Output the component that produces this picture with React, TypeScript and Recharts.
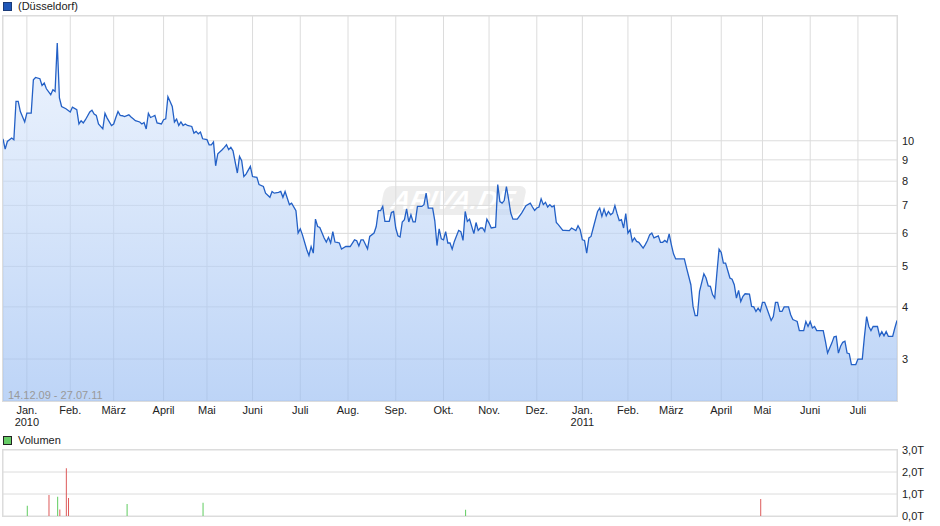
import { ComposedChart, Area, BarChart, Bar, Cell, XAxis, YAxis, CartesianGrid } from 'recharts';

// trading day number since 14.12.09 and closing price (EUR)
const tradingDays = [
  0, 1, 2, 4, 5, 6, 7, 8, 10, 11, 13, 14, 15, 17, 18, 19, 20, 22, 23, 24,
  25, 26, 27, 29, 31, 32, 34, 35, 36, 37, 38, 40, 41, 42, 43, 44, 46, 47, 48, 50,
  51, 52, 53, 54, 55, 56, 58, 59, 60, 61, 63, 64, 65, 66, 67, 68, 69, 70, 71, 73,
  74, 75, 76, 77, 78, 79, 80, 81, 82, 83, 84, 85, 87, 88, 89, 90, 91, 92, 94, 95,
  96, 97, 98, 99, 101, 102, 103, 104, 105, 106, 108, 109, 110, 111, 112, 114, 115, 117, 118, 120,
  121, 123, 124, 125, 127, 128, 129, 130, 132, 133, 135, 136, 137, 138, 140, 141, 142, 143, 144, 145,
  146, 148, 149, 150, 151, 152, 153, 154, 155, 156, 158, 160, 162, 163, 164, 165, 166, 168, 169, 171,
  172, 173, 174, 175, 176, 178, 179, 180, 181, 182, 183, 184, 185, 186, 187, 188, 189, 190, 191, 193,
  194, 195, 196, 198, 199, 200, 201, 202, 203, 204, 205, 206, 207, 208, 210, 211, 212, 213, 214, 215,
  217, 218, 219, 220, 221, 222, 223, 224, 225, 227, 228, 229, 230, 231, 232, 233, 234, 235, 237, 239,
  241, 243, 244, 245, 246, 247, 248, 249, 250, 251, 252, 253, 254, 255, 256, 258, 259, 261, 262, 264,
  265, 266, 267, 268, 269, 270, 271, 272, 274, 275, 276, 277, 278, 279, 280, 281, 282, 283, 284, 285,
  286, 287, 288, 289, 290, 291, 292, 293, 295, 296, 297, 298, 299, 300, 302, 303, 304, 305, 306, 307,
  308, 309, 310, 314, 315, 317, 318, 319, 320, 321, 323, 324, 325, 326, 327, 328, 329, 330, 331, 332,
  333, 334, 335, 336, 337, 338, 339, 340, 341, 342, 344, 345, 346, 347, 348, 349, 350, 351, 352, 354,
  355, 356, 357, 358, 359, 360, 362, 363, 364, 365, 366, 367, 369, 370, 371, 372, 373, 374, 375, 378,
  379, 380, 382, 383, 384, 385, 386, 387, 388, 389, 390, 391, 393, 394, 396, 397, 398, 399, 400, 401,
  403, 404, 405, 406, 407, 408, 410, 411, 412,
];

const closes = [
  10.11, 9.55, 9.96, 10.15, 10.06, 12.42, 12.42, 11.75, 11.09, 11.65, 11.65, 14.0, 14.18, 14.08, 13.57, 13.75, 13.32, 12.89, 13.25, 13.13,
  17.14, 12.66, 12.08, 11.93, 11.72, 12.04, 11.87, 10.97, 11.17, 11.03, 11.23, 11.72, 11.84, 11.59, 11.5, 10.97, 10.68, 11.63, 11.33, 10.88,
  10.97, 11.37, 11.75, 11.5, 11.48, 11.43, 11.54, 11.4, 11.29, 11.17, 11.09, 10.97, 11.06, 10.67, 11.63, 11.37, 11.43, 11.5, 11.03, 10.97,
  11.23, 11.29, 12.75, 12.42, 12.08, 11.09, 11.27, 10.88, 11.09, 10.88, 10.97, 10.88, 10.82, 10.43, 10.53, 10.39, 10.49, 10.11, 10.06, 9.78,
  9.78, 9.93, 8.71, 9.31, 9.52, 9.64, 9.78, 9.52, 9.64, 9.46, 8.37, 9.17, 8.96, 8.21, 8.32, 8.68, 8.21, 8.17, 7.85, 7.77,
  7.49, 7.32, 7.56, 7.49, 7.52, 7.56, 7.32, 7.56, 7.03, 7.09, 6.8, 6.01, 6.15, 5.95, 5.48, 5.31, 5.58, 5.38, 6.49, 6.23,
  6.2, 5.85, 5.72, 5.87, 5.69, 6.06, 5.72, 5.71, 5.69, 5.5, 5.58, 5.58, 5.79, 5.76, 5.6, 5.79, 5.79, 5.51, 5.9, 6.01,
  6.23, 6.8, 6.8, 6.96, 6.41, 6.41, 6.73, 6.77, 6.18, 5.92, 5.88, 6.39, 6.47, 6.87, 6.39, 6.65, 6.39, 6.39, 6.96, 6.96,
  7.03, 7.49, 6.9, 6.9, 6.43, 5.61, 6.15, 5.82, 5.79, 6.06, 5.69, 5.69, 5.5, 5.74, 6.1, 6.06, 5.77, 6.77, 6.41, 6.49,
  5.99, 6.37, 6.1, 6.18, 6.18, 6.06, 6.49, 6.35, 6.18, 6.21, 7.85, 7.15, 7.09, 7.19, 7.77, 7.25, 6.71, 6.49, 6.49, 6.71,
  6.99, 7.09, 6.94, 6.81, 6.9, 6.94, 7.26, 7.03, 7.12, 6.94, 7.03, 6.94, 6.99, 6.37, 6.29, 6.1, 6.1, 6.09, 6.18, 6.09,
  6.26, 6.12, 5.79, 5.77, 5.38, 5.85, 5.9, 6.18, 6.77, 6.9, 6.59, 6.86, 6.61, 6.77, 6.65, 6.71, 6.99, 6.69, 6.44, 6.47,
  6.18, 6.69, 6.01, 6.12, 5.74, 5.85, 5.74, 5.71, 5.53, 5.64, 5.77, 5.95, 6.01, 5.85, 5.92, 5.71, 5.71, 5.77, 5.71, 5.98,
  5.64, 5.36, 5.21, 5.21, 4.96, 4.52, 4.01, 3.81, 3.81, 4.36, 4.8, 4.69, 4.49, 4.48, 4.28, 4.2, 4.82, 5.5, 5.4, 5.09,
  5.09, 4.89, 4.69, 4.66, 4.52, 4.2, 4.38, 4.12, 4.24, 4.3, 4.29, 4.01, 4.0, 3.9, 3.97, 3.9, 4.1, 4.1, 3.97, 3.71,
  3.79, 4.1, 4.1, 3.9, 3.9, 4.0, 4.0, 3.83, 3.73, 3.71, 3.69, 3.51, 3.51, 3.69, 3.59, 3.69, 3.56, 3.59, 3.51, 3.51,
  3.31, 3.1, 3.28, 3.39, 3.4, 3.1, 3.22, 3.29, 3.31, 3.1, 3.09, 2.91, 2.91, 3.0, 3.0, 3.4, 3.79, 3.59, 3.51, 3.59,
  3.59, 3.41, 3.49, 3.41, 3.49, 3.4, 3.4, 3.56, 3.71,
];

// first trading day of each month
const monthTicks = [11, 31, 51, 74, 94, 115, 137, 159, 181, 203, 224, 246, 267, 288, 308, 331, 350, 372, 394];
const monthLabels = ['Jan.', 'Feb.', 'März', 'April', 'Mai', 'Juni', 'Juli', 'Aug.', 'Sep.', 'Okt.', 'Nov.', 'Dez.', 'Jan.', 'Feb.', 'März', 'April', 'Mai', 'Juni', 'Juli'];
const yearTicks = [11, 267];
const yearLabels = ['2010', '2011'];

const priceTicks = [3, 4, 5, 6, 7, 8, 9, 10];

// traded volume (shares), only days with turnover
const volumeDays = [11, 21, 25, 26, 29, 30, 57, 92, 213, 349];
const volumes = [470, 950, 870, 300, 2170, 820, 550, 600, 280, 770];
const volumeUp = [true, false, true, false, false, false, true, true, true, false];
const volumeTicks = [0, 1000, 2000, 3000];

const priceData = tradingDays.map((day, i) => ({ day, price: closes[i] }));
const volumeData = volumeDays.map((day, i) => ({ day, vol: volumes[i], up: volumeUp[i] }));

const GRID = '#dcdcdc';
const TEXT = '#222';

function MonthTick(props: any) {
  const { x, y, payload } = props;
  const m = monthTicks.indexOf(payload.value);
  const yr = yearTicks.indexOf(payload.value);
  return (
    <g>
      <text x={x} y={y + 13} textAnchor="middle" fontSize={11} fill={TEXT}>
        {monthLabels[m]}
      </text>
      {yr >= 0 && (
        <text x={x} y={y + 25} textAnchor="middle" fontSize={11} fill={TEXT}>
          {yearLabels[yr]}
        </text>
      )}
    </g>
  );
}

const fmtVolume = (v: number) => `${(v / 1000).toFixed(1).replace('.', ',')}T`;

export default function App() {
  return (
    <div
      style={{
        position: 'relative',
        width: 940,
        height: 526,
        background: '#fff',
        fontFamily: '"Liberation Sans", Arial, sans-serif',
        overflow: 'hidden',
      }}
    >
      <style>{'body{margin:0}'}</style>

      {/* watermark, behind the chart */}
      <div
        style={{
          position: 'absolute',
          left: 382,
          top: 186,
          width: 142,
          height: 29,
          borderRadius: 7,
          background: '#e2e2e2',
          opacity: 0.6,
          transform: 'skewX(-12deg)',
          color: '#fff',
          fontSize: 26,
          fontWeight: 'bold',
          fontStyle: 'italic',
          lineHeight: '29px',
          textAlign: 'center',
        }}
      >
        ARIVA.DE
      </div>

      <div style={{ position: 'absolute', left: 0, top: 0 }}>
        <ComposedChart width={940} height={430} data={priceData} margin={{ top: 16, right: 0, bottom: 0, left: 3 }}>
          <defs>
            <linearGradient id="priceFill" x1="0" y1="0" x2="0" y2="1">
              <stop offset="0%" stopColor="#e1ecfc" stopOpacity={0.6} />
              <stop offset="100%" stopColor="#96bbf2" stopOpacity={0.63} />
            </linearGradient>
          </defs>
          <CartesianGrid stroke={GRID} />
          <XAxis
            dataKey="day"
            type="number"
            domain={[0, 412]}
            ticks={monthTicks}
            interval={0}
            tick={(p: any) => <MonthTick {...p} />}
            tickLine={false}
            axisLine={false}
            tickSize={0}
            tickMargin={0}
            height={29}
          />
          <YAxis
            orientation="right"
            type="number"
            scale="log"
            domain={[2.38, 19.9]}
            allowDataOverflow
            ticks={priceTicks}
            interval={0}
            width={43}
            tickLine={false}
            axisLine={false}
            tickSize={0}
            tickMargin={5}
            tick={{ fontSize: 11, fill: TEXT }}
          />
          <Area
            type="linear"
            dataKey="price"
            stroke="#2360c6"
            strokeWidth={1.3}
            fill="url(#priceFill)"
            fillOpacity={1}
            dot={false}
            activeDot={false}
            isAnimationActive={false}
          />
        </ComposedChart>
      </div>

      {/* plot frame */}
      <div style={{ position: 'absolute', left: 2, top: 15, width: 896, height: 387, border: `1px solid ${GRID}`, boxSizing: 'border-box', pointerEvents: 'none' }} />

      <div style={{ position: 'absolute', left: 8, top: 389, fontSize: 11, lineHeight: '13px', color: '#999' }}>14.12.09 - 27.07.11</div>

      {/* legend price */}
      <div style={{ position: 'absolute', left: 3, top: 2, width: 7, height: 7, background: '#1f57b8', border: '1px solid #1a3a78' }} />
      <div style={{ position: 'absolute', left: 18, top: 0, fontSize: 11, lineHeight: '13px', color: TEXT }}>(Düsseldorf)</div>

      {/* legend volume */}
      <div style={{ position: 'absolute', left: 3, top: 436, width: 7, height: 7, background: '#66cc66', border: '1px solid #222' }} />
      <div style={{ position: 'absolute', left: 18, top: 434, fontSize: 11, lineHeight: '13px', color: TEXT }}>Volumen</div>

      <div style={{ position: 'absolute', left: 0, top: 434 }}>
        <BarChart width={940} height={92} data={volumeData} margin={{ top: 16, right: 0, bottom: 10, left: 3 }}>
          <CartesianGrid stroke={GRID} />
          <XAxis
            dataKey="day"
            type="number"
            domain={[0, 412]}
            ticks={monthTicks}
            interval={0}
            tick={false}
            tickLine={false}
            axisLine={false}
            height={0}
          />
          <YAxis
            orientation="right"
            type="number"
            domain={[0, 3000]}
            ticks={volumeTicks}
            interval={0}
            tickFormatter={fmtVolume}
            width={43}
            tickLine={false}
            axisLine={false}
            tickSize={0}
            tickMargin={5}
            tick={{ fontSize: 11, fill: TEXT }}
          />
          <Bar dataKey="vol" barSize={1} isAnimationActive={false}>
            {volumeData.map((d, i) => (
              <Cell key={`vol-${i}`} fill={d.up ? '#5fcc5f' : '#dd5a5a'} />
            ))}
          </Bar>
        </BarChart>
      </div>

      <div style={{ position: 'absolute', left: 2, top: 449, width: 896, height: 68, border: `1px solid ${GRID}`, boxSizing: 'border-box', pointerEvents: 'none' }} />
    </div>
  );
}
